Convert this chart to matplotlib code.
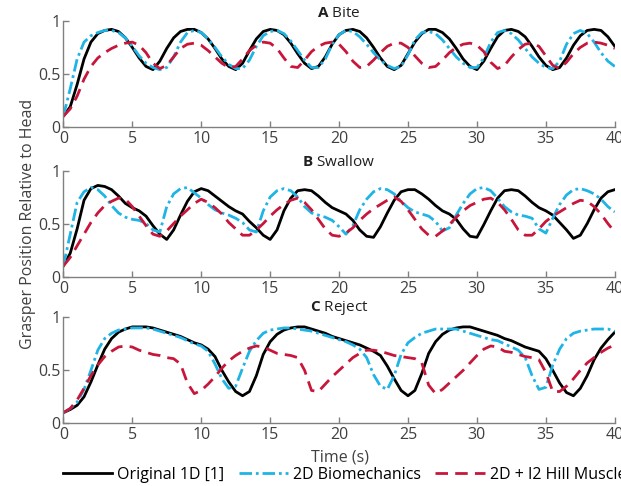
#GRAFICO DE POSICAO DO GRASPER (BITE, SWALLOW, REJECT)
import numpy as np
import matplotlib
matplotlib.use('Agg')
import matplotlib.pyplot as plt

plt.rcParams['font.family'] = ['Open Sans', 'DejaVu Sans']
plt.rcParams['mathtext.fontset'] = 'custom'
plt.rcParams['mathtext.rm'] = 'Open Sans'
plt.rcParams['mathtext.bf'] = 'Open Sans:bold'

# eixo de tempo (s), amostras lidas a cada 0.5 s
tempo = np.arange(0, 40.5, 0.5)

# A - Bite
bite_original = [0.10,0.19,0.40,0.64,0.80,0.88,0.91,0.92,0.90,0.84,
                 0.75,0.65,0.57,0.54,0.62,0.74,0.84,0.90,0.92,0.92,
                 0.89,0.83,0.74,0.64,0.57,0.54,0.60,0.72,0.83,0.90,
                 0.92,0.91,0.87,0.79,0.69,0.60,0.55,0.57,0.66,0.78,
                 0.87,0.91,0.92,0.90,0.84,0.75,0.65,0.57,0.54,0.58,
                 0.69,0.80,0.88,0.92,0.92,0.89,0.83,0.74,0.64,0.57,
                 0.54,0.62,0.74,0.85,0.91,0.92,0.90,0.85,0.76,0.66,
                 0.58,0.54,0.56,0.65,0.77,0.86,0.91,0.92,0.91,0.85,
                 0.76]
bite_biomec = [0.10,0.36,0.64,0.80,0.86,0.89,0.91,0.91,0.89,0.84,
               0.76,0.67,0.60,0.56,0.54,0.56,0.66,0.80,0.89,0.91,
               0.89,0.83,0.75,0.66,0.59,0.55,0.55,0.63,0.76,0.86,
               0.90,0.91,0.88,0.81,0.72,0.63,0.56,0.56,0.64,0.78,
               0.87,0.91,0.90,0.85,0.78,0.70,0.63,0.58,0.55,0.57,
               0.68,0.82,0.89,0.90,0.88,0.82,0.74,0.66,0.60,0.56,
               0.56,0.65,0.80,0.89,0.91,0.88,0.82,0.74,0.66,0.60,
               0.56,0.55,0.62,0.78,0.88,0.91,0.88,0.80,0.70,0.62,
               0.57]
bite_hill = [0.10,0.17,0.29,0.45,0.57,0.65,0.70,0.74,0.77,0.79,
             0.80,0.77,0.70,0.60,0.55,0.58,0.66,0.74,0.78,0.79,
             0.77,0.72,0.66,0.60,0.56,0.57,0.64,0.72,0.77,0.80,
             0.79,0.74,0.65,0.57,0.56,0.63,0.71,0.76,0.79,0.80,
             0.78,0.71,0.62,0.56,0.57,0.63,0.70,0.76,0.79,0.79,
             0.75,0.67,0.60,0.56,0.57,0.63,0.70,0.75,0.78,0.79,
             0.77,0.71,0.61,0.55,0.58,0.66,0.73,0.78,0.79,0.76,
             0.67,0.58,0.55,0.61,0.69,0.75,0.79,0.80,0.79,0.77,
             0.74]

# B - Swallow
swallow_original = [0.10,0.22,0.45,0.72,0.83,0.86,0.85,0.82,0.76,0.69,
                    0.65,0.62,0.57,0.48,0.40,0.35,0.44,0.58,0.71,0.80,
                    0.83,0.81,0.76,0.71,0.66,0.62,0.59,0.52,0.46,0.39,
                    0.35,0.44,0.62,0.74,0.81,0.82,0.81,0.76,0.70,0.65,
                    0.62,0.59,0.53,0.44,0.38,0.37,0.47,0.60,0.72,0.80,
                    0.82,0.82,0.78,0.73,0.67,0.62,0.59,0.54,0.45,0.38,
                    0.37,0.49,0.62,0.74,0.81,0.82,0.81,0.76,0.70,0.65,
                    0.62,0.58,0.51,0.44,0.36,0.39,0.50,0.63,0.74,0.80,
                    0.82]
swallow_biomec = [0.10,0.40,0.70,0.80,0.84,0.82,0.76,0.67,0.60,0.56,
                  0.54,0.53,0.50,0.44,0.42,0.66,0.78,0.83,0.84,0.79,
                  0.74,0.68,0.63,0.60,0.58,0.55,0.51,0.44,0.42,0.62,
                  0.75,0.81,0.83,0.81,0.75,0.66,0.60,0.58,0.56,0.53,
                  0.47,0.40,0.48,0.63,0.73,0.80,0.83,0.82,0.78,0.71,
                  0.65,0.61,0.59,0.57,0.52,0.43,0.46,0.58,0.69,0.78,
                  0.83,0.84,0.81,0.74,0.66,0.61,0.58,0.57,0.55,0.45,
                  0.41,0.55,0.68,0.77,0.82,0.83,0.81,0.78,0.73,0.66,
                  0.61]
swallow_hill = [0.10,0.18,0.29,0.40,0.51,0.60,0.67,0.71,0.74,0.73,
                0.66,0.57,0.48,0.40,0.38,0.43,0.50,0.57,0.63,0.69,
                0.73,0.70,0.65,0.59,0.51,0.45,0.39,0.39,0.44,0.50,
                0.57,0.63,0.68,0.72,0.74,0.70,0.63,0.54,0.45,0.39,
                0.38,0.41,0.46,0.53,0.59,0.64,0.68,0.72,0.75,0.71,
                0.63,0.54,0.45,0.39,0.38,0.43,0.49,0.56,0.62,0.67,
                0.70,0.73,0.74,0.70,0.63,0.54,0.44,0.39,0.39,0.45,
                0.52,0.57,0.61,0.65,0.69,0.72,0.71,0.66,0.59,0.50,
                0.42]

# C - Reject
reject_original = [0.10,0.13,0.17,0.25,0.39,0.55,0.70,0.80,0.86,0.89,
                   0.91,0.91,0.91,0.90,0.88,0.86,0.84,0.82,0.79,0.76,
                   0.74,0.70,0.63,0.50,0.39,0.30,0.26,0.30,0.45,0.65,
                   0.77,0.84,0.88,0.90,0.91,0.91,0.89,0.87,0.85,0.82,
                   0.80,0.78,0.76,0.74,0.71,0.68,0.64,0.54,0.42,0.31,
                   0.26,0.31,0.47,0.66,0.77,0.84,0.88,0.90,0.91,0.91,
                   0.89,0.87,0.85,0.83,0.80,0.78,0.75,0.72,0.70,0.68,
                   0.61,0.50,0.38,0.29,0.26,0.33,0.45,0.60,0.71,0.79,
                   0.86]
reject_biomec = [0.10,0.14,0.20,0.32,0.50,0.69,0.80,0.85,0.88,0.89,
                 0.90,0.90,0.90,0.89,0.87,0.85,0.83,0.81,0.78,0.75,
                 0.73,0.68,0.56,0.42,0.33,0.35,0.52,0.68,0.78,0.85,
                 0.88,0.89,0.90,0.90,0.89,0.88,0.87,0.85,0.83,0.81,
                 0.79,0.77,0.74,0.70,0.62,0.46,0.35,0.32,0.45,0.65,
                 0.76,0.81,0.85,0.87,0.89,0.89,0.89,0.89,0.87,0.85,
                 0.83,0.81,0.79,0.78,0.75,0.72,0.69,0.62,0.45,0.32,
                 0.34,0.55,0.70,0.80,0.85,0.87,0.88,0.89,0.89,0.89,
                 0.87]
reject_hill = [0.10,0.14,0.22,0.33,0.45,0.55,0.63,0.68,0.72,0.73,
               0.72,0.69,0.67,0.65,0.64,0.62,0.61,0.56,0.38,0.28,
               0.31,0.37,0.44,0.52,0.59,0.64,0.68,0.71,0.73,0.72,
               0.69,0.66,0.65,0.64,0.62,0.50,0.31,0.30,0.37,0.44,
               0.50,0.56,0.62,0.66,0.69,0.69,0.68,0.66,0.64,0.63,
               0.62,0.61,0.57,0.36,0.28,0.32,0.38,0.44,0.50,0.57,
               0.64,0.70,0.73,0.72,0.68,0.67,0.65,0.63,0.62,0.60,
               0.48,0.30,0.30,0.35,0.42,0.50,0.57,0.62,0.67,0.71,
               0.74]

legendas = ['Original 1D [1]', '2D Biomechanics', '2D + I2 Hill Muscle']
cor_azul = '#1FB4E6'
cor_vermelho = '#C8163B'
cor_eixo = '#808080'
cor_texto = '#404040'

def painel(fig, pos, titulo, original, biomec, hill):
    ax = fig.add_axes(pos)
    ax.plot(tempo, original, color='black', linewidth=2.0, label=legendas[0])
    ax.plot(tempo, biomec, color=cor_azul, linewidth=2.0,
            linestyle=(0, (4.5, 1.4, 1.0, 1.4)), label=legendas[1])
    ax.plot(tempo, hill, color=cor_vermelho, linewidth=2.0,
            linestyle=(0, (4.5, 2.6)), label=legendas[2])
    ax.set_xlim(0, 40)
    ax.set_ylim(0, 1)
    ax.set_xticks(np.arange(0, 41, 5))
    ax.set_yticks([0, 0.5, 1])
    ax.set_yticklabels(['0', '0.5', '1'])
    for lado in ['top', 'right']:
        ax.spines[lado].set_visible(False)
    for lado in ['left', 'bottom']:
        ax.spines[lado].set_color(cor_eixo)
        ax.spines[lado].set_linewidth(1.0)
    ax.tick_params(direction='in', length=4, width=1.0, color=cor_eixo,
                   labelcolor=cor_texto, labelsize=11.5)
    ax.tick_params(axis='x', pad=3)
    ax.tick_params(axis='y', pad=2)
    ax.set_title(titulo, fontsize=11, pad=3, color='#202020')
    return ax

fig = plt.figure(figsize=(6.21, 4.86), dpi=100)
esq, larg, alt = 0.102, 0.888, 0.218
ax_a = painel(fig, [esq, 0.739, larg, alt], r'$\mathbf{A}$ Bite',
              bite_original, bite_biomec, bite_hill)
ax_b = painel(fig, [esq, 0.431, larg, alt], r'$\mathbf{B}$ Swallow',
              swallow_original, swallow_biomec, swallow_hill)
ax_c = painel(fig, [esq, 0.129, larg, alt], r'$\mathbf{C}$ Reject',
              reject_original, reject_biomec, reject_hill)

fig.text(0.045, 0.54, 'Grasper Position Relative to Head', rotation=90,
         ha='center', va='center', fontsize=11.5, color=cor_texto)
fig.text(0.548, 0.058, 'Time (s)', ha='center', va='center',
         fontsize=11.5, color=cor_texto)

handles, labels = ax_c.get_legend_handles_labels()
fig.legend(handles, labels, loc='center left', bbox_to_anchor=(0.101, 0.023),
           ncol=3, frameon=False, fontsize=11.5, handlelength=3.1,
           handletextpad=0.3, columnspacing=0.9, borderpad=0, borderaxespad=0)

plt.savefig('out.png', dpi=100)
